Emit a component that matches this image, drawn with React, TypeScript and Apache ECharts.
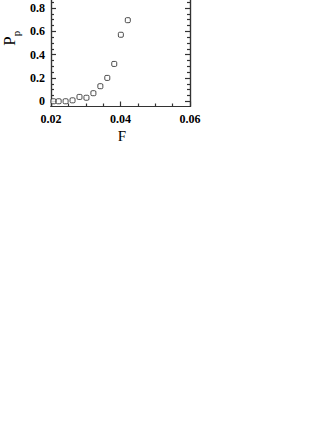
import React, { useEffect, useRef } from "react";
import * as echarts from "echarts";

const F = [0.0207, 0.0222, 0.0242, 0.0262, 0.0282, 0.0302, 0.0322, 0.0342, 0.0362, 0.0382, 0.0401, 0.0421];
const Pp = [0.0, 0.0, 0.0, 0.008, 0.037, 0.03, 0.069, 0.129, 0.2, 0.32, 0.57, 0.695];
const xMajor = [0.02, 0.04, 0.06];
const xMinor = [0.025, 0.03, 0.035, 0.045, 0.05, 0.055];
const yMajor = [0, 0.2, 0.4, 0.6, 0.8, 1.0];
const yLabels = [0, 0.2, 0.4, 0.6, 0.8];
const yMinor = [0.05, 0.1, 0.15, 0.25, 0.3, 0.35, 0.45, 0.5, 0.55, 0.65, 0.7, 0.75, 0.85, 0.9, 0.95];

const XMIN = 0.02, XMAX = 0.06, YMIN = -0.045, YMAX = 1.0;
const AX = "#333";
const FONT = "'Liberation Serif', 'DejaVu Serif', serif";
const SHIFT = 30;

function fmt(v: number) {
  if (Math.abs(v) < 1e-9) return "0";
  return v.toFixed(1);
}

export default function App() {
  const ref = useRef<HTMLDivElement>(null);
  useEffect(() => {
    const chart = echarts.init(ref.current!, null, { renderer: "svg" });
    const xBase = (pos: "bottom" | "top", ticks: number[], len: number, labels: boolean) => ({
      type: "value",
      position: pos,
      min: XMIN,
      max: XMAX,
      axisLine: { show: true, onZero: false, lineStyle: { color: AX, width: 1.2 } },
      axisTick: { show: true, inside: true, length: len, customValues: ticks, lineStyle: { color: AX, width: 1.2 } },
      axisLabel: labels
        ? { show: true, customValues: xMajor, formatter: (v: number) => v.toFixed(2), margin: 6, color: "#000", fontFamily: FONT, fontSize: 12, fontWeight: "bold" }
        : { show: false },
      splitLine: { show: false },
    });
    const yBase = (pos: "left" | "right", ticks: number[], len: number, labels: boolean) => ({
      type: "value",
      position: pos,
      min: YMIN,
      max: YMAX,
      axisLine: { show: true, onZero: false, lineStyle: { color: AX, width: 1.2 } },
      axisTick: { show: true, inside: true, length: len, customValues: ticks, lineStyle: { color: AX, width: 1.2 } },
      axisLabel: labels
        ? { show: true, customValues: yLabels, formatter: (v: number) => fmt(v), margin: 6, color: "#000", fontFamily: FONT, fontSize: 12, fontWeight: "bold" }
        : { show: false },
      splitLine: { show: false },
    });
    chart.setOption({
      animation: false,
      grid: { left: 51, right: 142, top: SHIFT - 15.4, bottom: 323.5, containLabel: false },
      xAxis: [
        xBase("bottom", xMajor, 5, true),
        xBase("bottom", xMinor, 3, false),
        xBase("top", xMajor, 5, false),
        xBase("top", xMinor, 3, false),
      ],
      yAxis: [
        yBase("left", yMajor, 5, true),
        yBase("left", yMinor, 3, false),
        yBase("right", yMajor, 5, false),
        yBase("right", yMinor, 3, false),
      ],
      graphic: [
        { type: "text", x: 122, y: SHIFT + 136, style: { text: "F", font: `15px ${FONT}`, fill: "#000", align: "center", verticalAlign: "middle" } },
        { type: "text", x: 9, y: SHIFT + 41, rotation: Math.PI / 2, style: { text: "P", font: `17px ${FONT}`, fill: "#000", align: "center", verticalAlign: "middle" } },
        { type: "text", x: 16, y: SHIFT + 33.5, rotation: Math.PI / 2, style: { text: "p", font: `11px ${FONT}`, fill: "#000", align: "center", verticalAlign: "middle" } },
      ],
      series: [
        {
          type: "scatter",
          xAxisIndex: 0,
          yAxisIndex: 0,
          data: F.map((f, i) => [f, Pp[i]]),
          symbol: "roundRect",
          symbolSize: 5,
          itemStyle: { color: "#fff", borderColor: "#222", borderWidth: 1 },
        },
      ],
    });
    return () => chart.dispose();
  }, []);
  return <div ref={ref} style={{ width: 332, height: 430 + SHIFT, position: "absolute", left: 0, top: -SHIFT }} />;
}
